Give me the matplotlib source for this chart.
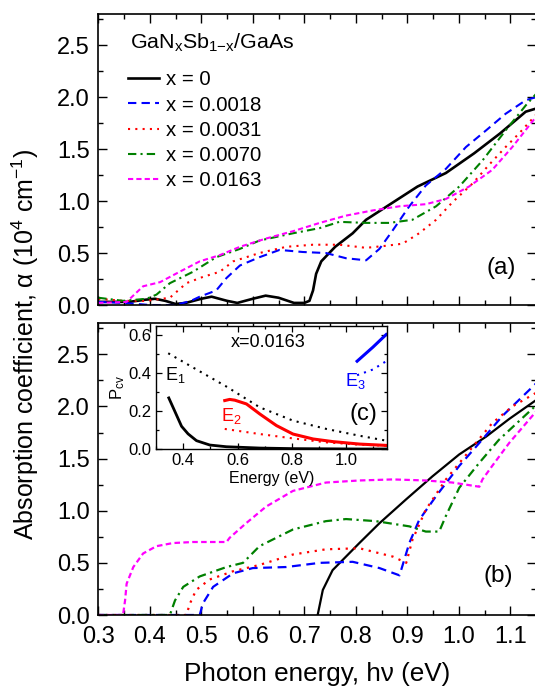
import matplotlib
matplotlib.use('Agg')
import matplotlib.pyplot as plt
from matplotlib.ticker import MultipleLocator

plt.rcParams['font.family'] = ['Liberation Sans', 'DejaVu Sans']
plt.rcParams['mathtext.fontset'] = 'custom'
plt.rcParams['mathtext.rm'] = 'Liberation Sans'
plt.rcParams['mathtext.it'] = 'Liberation Sans'
plt.rcParams['mathtext.default'] = 'regular'

# ---- panel (a): measured absorption (hv in eV, alpha in 1e4 cm^-1)
a0_x = [0.30, 0.33, 0.36, 0.39, 0.41, 0.43, 0.45, 0.47, 0.50, 0.52, 0.55, 0.57, 0.60, 0.625,
        0.65, 0.68, 0.70, 0.71, 0.717, 0.723, 0.733, 0.76, 0.794, 0.82, 0.87, 0.92, 0.975,
        1.03, 1.08, 1.13, 1.15]
a0_y = [0.03, 0.03, 0.03, 0.05, 0.06, 0.04, 0.01, 0.02, 0.06, 0.08, 0.04, 0.02, 0.06, 0.09,
        0.07, 0.02, 0.02, 0.04, 0.14, 0.30, 0.42, 0.56, 0.69, 0.82, 0.98, 1.14, 1.27,
        1.46, 1.65, 1.86, 1.89]

a1_x = [0.30, 0.35, 0.40, 0.45, 0.48, 0.497, 0.529, 0.549, 0.575, 0.613, 0.652, 0.697, 0.742,
        0.781, 0.82, 0.846, 0.872, 0.904, 0.936, 0.975, 1.014, 1.053, 1.091, 1.13, 1.15]
a1_y = [0.03, 0.02, 0.00, 0.00, 0.04, 0.08, 0.14, 0.26, 0.38, 0.46, 0.53, 0.51, 0.50,
        0.45, 0.43, 0.54, 0.72, 0.95, 1.15, 1.31, 1.52, 1.68, 1.84, 1.97, 2.00]

a2_x = [0.30, 0.348, 0.394, 0.439, 0.471, 0.503, 0.536, 0.562, 0.613, 0.665, 0.717, 0.768,
        0.82, 0.859, 0.891, 0.923, 0.956, 0.988, 1.027, 1.059, 1.091, 1.117, 1.15]
a2_y = [0.06, 0.04, 0.04, 0.07, 0.21, 0.27, 0.32, 0.42, 0.50, 0.56, 0.58, 0.58,
        0.55, 0.57, 0.59, 0.69, 0.82, 0.99, 1.17, 1.35, 1.52, 1.65, 1.83]

a3_x = [0.30, 0.348, 0.394, 0.413, 0.439, 0.484, 0.529, 0.575, 0.613, 0.678, 0.73, 0.768,
        0.82, 0.865, 0.91, 0.956, 1.001, 1.046, 1.091, 1.13, 1.15]
a3_y = [0.07, 0.04, 0.06, 0.10, 0.21, 0.32, 0.46, 0.54, 0.62, 0.69, 0.74, 0.80,
        0.79, 0.79, 0.82, 0.95, 1.14, 1.39, 1.68, 1.92, 2.03]

a4_x = [0.30, 0.355, 0.387, 0.42, 0.458, 0.497, 0.536, 0.575, 0.626, 0.678, 0.73, 0.781,
        0.833, 0.885, 0.936, 0.975, 1.02, 1.065, 1.104, 1.15]
a4_y = [0.02, 0.03, 0.18, 0.22, 0.32, 0.42, 0.48, 0.56, 0.64, 0.71, 0.79, 0.86,
        0.91, 0.95, 0.97, 1.02, 1.14, 1.30, 1.52, 1.81]

# ---- panel (b): calculated absorption
b0_x = [0.726, 0.736, 0.755, 0.781, 0.807, 0.846, 0.898, 0.949, 1.001, 1.053, 1.098, 1.15]
b0_y = [0.00, 0.24, 0.43, 0.56, 0.69, 0.88, 1.11, 1.33, 1.54, 1.71, 1.88, 2.06]

b1_x = [0.30, 0.497, 0.503, 0.523, 0.562, 0.60, 0.665, 0.73, 0.794, 0.846, 0.885, 0.904,
        0.923, 0.956, 1.001, 1.04, 1.085, 1.15]
b1_y = [0.00, 0.00, 0.11, 0.27, 0.40, 0.45, 0.46, 0.50, 0.51, 0.45, 0.38, 0.69,
        0.91, 1.14, 1.43, 1.65, 1.91, 2.22]

b2_x = [0.30, 0.471, 0.478, 0.49, 0.516, 0.562, 0.613, 0.678, 0.742, 0.807, 0.872, 0.898,
        0.91, 0.936, 0.975, 1.02, 1.065, 1.104, 1.15]
b2_y = [0.00, 0.00, 0.11, 0.24, 0.34, 0.42, 0.48, 0.58, 0.63, 0.64, 0.56, 0.50,
        0.72, 1.01, 1.30, 1.57, 1.84, 2.00, 2.13]

b3_x = [0.30, 0.439, 0.449, 0.465, 0.497, 0.549, 0.581, 0.613, 0.678, 0.742, 0.781, 0.839,
        0.904, 0.936, 0.962, 0.975, 1.001, 1.04, 1.078, 1.15]
b3_y = [0.00, 0.00, 0.14, 0.27, 0.37, 0.46, 0.50, 0.66, 0.82, 0.90, 0.92, 0.90,
        0.85, 0.80, 0.80, 0.95, 1.22, 1.46, 1.68, 2.01]

b4_x = [0.30, 0.348, 0.352, 0.355, 0.368, 0.387, 0.413, 0.445, 0.484, 0.549, 0.555, 0.587,
        0.626, 0.678, 0.742, 0.807, 0.872, 0.936, 0.988, 1.04, 1.046, 1.065, 1.098, 1.15]
b4_y = [0.00, 0.00, 0.14, 0.30, 0.46, 0.59, 0.66, 0.69, 0.70, 0.70, 0.74, 0.88,
        1.04, 1.19, 1.27, 1.29, 1.30, 1.29, 1.27, 1.23, 1.30, 1.43, 1.65, 1.95]

# ---- inset (c): P_cv for x = 0.0163
e1_x = [0.347, 0.369, 0.394, 0.418, 0.449, 0.498, 0.559, 0.682, 0.804, 0.927, 1.05, 1.15]
e1_y = [0.27, 0.20, 0.12, 0.08, 0.044, 0.021, 0.012, 0.005, 0.002, 0.001, 0.0, 0.0]
e1d_x = [0.345, 0.437, 0.559, 0.682, 0.804, 0.927, 1.049, 1.147]
e1d_y = [0.506, 0.43, 0.33, 0.22, 0.15, 0.106, 0.07, 0.044]
e2_x = [0.553, 0.571, 0.59, 0.633, 0.682, 0.743, 0.804, 0.878, 0.951, 1.049, 1.147]
e2_y = [0.256, 0.262, 0.258, 0.238, 0.185, 0.124, 0.079, 0.053, 0.039, 0.026, 0.019]
e2d_x = [0.553, 0.682, 0.804, 0.927, 1.049, 1.147]
e2d_y = [0.106, 0.079, 0.056, 0.035, 0.023, 0.018]
e3_x = [1.04, 1.098, 1.147]
e3_y = [0.464, 0.538, 0.605]
e3d_x = [1.04, 1.098, 1.147]
e3d_y = [0.39, 0.42, 0.464]

labels = ['x = 0', 'x = 0.0018', 'x = 0.0031', 'x = 0.0070', 'x = 0.0163']
colors = ['black', '#0000ff', '#ff0000', '#008000', '#ff00ff']
dashes = [None, (4, 2.5), (1, 2.5), (4, 2, 1, 2), (2.5, 1.5)]
widths = [1.9, 1.5, 1.5, 1.5, 1.5]

fig = plt.figure(figsize=(5.35, 6.88), dpi=100)
W, H = 535.0, 688.0
ax1 = fig.add_axes([98.3 / W, 1 - 305 / H, (536 - 98.3) / W, (305 - 14) / H])
ax2 = fig.add_axes([98.3 / W, 1 - 615 / H, (536 - 98.3) / W, (615 - 323) / H])


def style(ax):
    ax.set_xlim(0.3, 1.15)
    ax.set_ylim(0, 2.8)
    ax.xaxis.set_major_locator(MultipleLocator(0.1))
    ax.xaxis.set_minor_locator(MultipleLocator(0.05))
    ax.yaxis.set_major_locator(MultipleLocator(0.5))
    ax.yaxis.set_minor_locator(MultipleLocator(0.25))
    ax.tick_params(which='both', direction='in', top=True, right=True, width=1.0,
                   labelsize=17, pad=6)
    ax.tick_params(which='major', length=6.5)
    ax.tick_params(which='minor', length=3.5)
    for s in ax.spines.values():
        s.set_linewidth(1.2)


top_sets = [(a0_x, a0_y), (a1_x, a1_y), (a2_x, a2_y), (a3_x, a3_y), (a4_x, a4_y)]
bot_sets = [(b0_x, b0_y), (b1_x, b1_y), (b2_x, b2_y), (b3_x, b3_y), (b4_x, b4_y)]

for i in range(5):
    ln, = ax1.plot(top_sets[i][0], top_sets[i][1], color=colors[i], lw=widths[i],
                   label=labels[i])
    if dashes[i]:
        ln.set_dashes(dashes[i])
    ln2, = ax2.plot(bot_sets[i][0], bot_sets[i][1], color=colors[i], lw=1.6)
    if dashes[i]:
        ln2.set_dashes(dashes[i])

style(ax1)
style(ax2)
ax1.tick_params(labelbottom=False)
ax2.set_xticks([0.3, 0.4, 0.5, 0.6, 0.7, 0.8, 0.9, 1.0, 1.1])
ax2.set_xticklabels(['0.3', '0.4', '0.5', '0.6', '0.7', '0.8', '0.9', '1.0', '1.1'])
ax2.tick_params(axis='x', pad=8)
ax2.set_xlabel('Photon energy, h\u03bd (eV)', fontsize=18.8, labelpad=10)

leg = ax1.legend(loc='upper left', bbox_to_anchor=(0.068, 0.806), frameon=False,
                 fontsize=14.7, handlelength=1.52, handletextpad=0.35,
                 labelspacing=0.30, borderaxespad=0, borderpad=0)
ax1.text((130 - 98.3) / 437.7, (305 - 43) / 291.0, 'GaN$_x$Sb$_{1{-}x}$/GaAs',
         fontsize=15.4, ha='left', va='center', transform=ax1.transAxes)

ax1.text(1.082, 0.36, '(a)', fontsize=17.5, ha='center', va='center')
ax2.text(1.077, 0.37, '(b)', fontsize=17.5, ha='center', va='center')

fig.text(25 / W, 1 - 344 / H, 'Absorption coefficient, \u03b1 (10$^4$ cm$^{-1}$)',
         rotation=90, fontsize=18, ha='center', va='center')

# inset
ax3 = fig.add_axes([156 / W, 1 - 449 / H, (387 - 156) / W, (449 - 326) / H])
ax3.plot(e1_x, e1_y, color='black', lw=2.0)
ax3.plot(e1d_x, e1d_y, color='black', lw=1.5, linestyle=(0, (1, 2.5)))
ax3.plot(e2_x, e2_y, color='#ff0000', lw=2.2)
ax3.plot(e2d_x, e2d_y, color='#ff0000', lw=1.5, linestyle=(0, (1, 2.5)))
ax3.plot(e3_x, e3_y, color='#0000ff', lw=2.2)
ax3.plot(e3d_x, e3d_y, color='#0000ff', lw=1.5, linestyle=(0, (1, 2.5)))
ax3.set_xlim(0.3, 1.15)
ax3.set_ylim(0, 0.65)
ax3.xaxis.set_major_locator(MultipleLocator(0.2))
ax3.xaxis.set_minor_locator(MultipleLocator(0.1))
ax3.yaxis.set_major_locator(MultipleLocator(0.2))
ax3.yaxis.set_minor_locator(MultipleLocator(0.1))
ax3.tick_params(which='both', direction='in', top=True, right=True, width=0.9,
                labelsize=12, pad=3)
ax3.tick_params(which='major', length=4.5)
ax3.tick_params(which='minor', length=2.5)
for s in ax3.spines.values():
    s.set_linewidth(1.0)
ax3.set_xlabel('Energy (eV)', fontsize=11.5, labelpad=2)
ax3.set_ylabel('P$_{cv}$', fontsize=12, labelpad=1)
ax3.text(0.712, 0.565, 'x=0.0163', fontsize=13, ha='center', va='center')
ax3.text(0.333, 0.39, 'E$_1$', fontsize=13, ha='left', va='center')
ax3.text(0.54, 0.176, 'E$_2$', fontsize=13, ha='left', va='center', color='#ff0000')
ax3.text(0.994, 0.36, 'E$_3$', fontsize=13, ha='left', va='center', color='#0000ff')
ax3.text(1.064, 0.185, '(c)', fontsize=17, ha='center', va='center')

fig.savefig('out.png', dpi=100)
